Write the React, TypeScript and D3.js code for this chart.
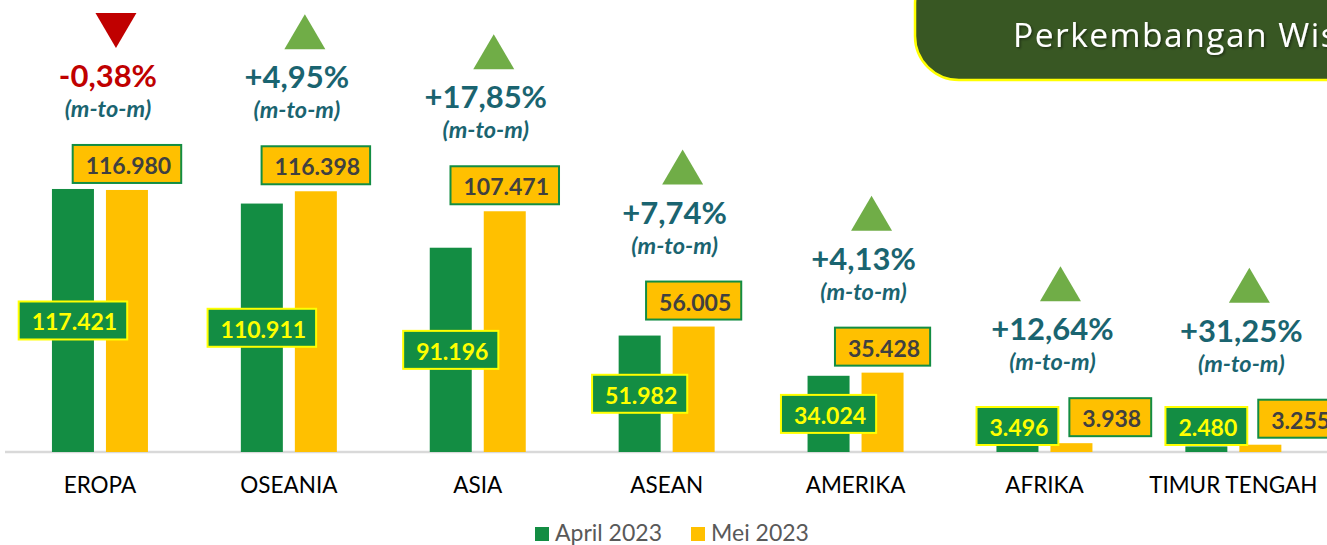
import React, { useEffect, useRef } from 'react';
import * as d3 from 'd3';

const categories = ['EROPA', 'OSEANIA', 'ASIA', 'ASEAN', 'AMERIKA', 'AFRIKA', 'TIMUR TENGAH'];
const april2023 = [117421, 110911, 91196, 51982, 34024, 3496, 2480];
const mei2023 = [116980, 116398, 107471, 56005, 35428, 3938, 3255];
const seriesNames = ['April 2023', 'Mei 2023'];
const titleText = 'Perkembangan Wisman Menurut Kebangsaan';
const periodNote = '(m-to-m)';

const W = 1327;
const H = 545;
const GREEN = '#138D43';
const YELLOW = '#FFC000';
const TEAL = '#1A6470';
const RED = '#C00000';
const TRI_GREEN = '#70AD47';

const locale = d3.formatLocale({ decimal: ',', thousands: '.', grouping: [3], currency: ['', ''], minus: '-' });
const fmtInt = locale.format(',d');
const fmtPct = locale.format('+.2f');

export default function App() {
  const ref = useRef<SVGSVGElement | null>(null);

  useEffect(() => {
    const svg = d3.select(ref.current);
    svg.selectAll('*').remove();

    const baseY = 452;
    const x = d3.scaleBand<string>().domain(categories).range([5.5, 5.5 + 7 * 188.9]).paddingInner(0).paddingOuter(0);
    const y = d3.scaleLinear().domain([0, 120000]).range([baseY, baseY - 268.8]);

    const defs = svg.append('defs');
    const f = defs.append('filter').attr('id', 'tshadow').attr('x', '-10%').attr('y', '-30%').attr('width', '120%').attr('height', '160%');
    f.append('feDropShadow').attr('dx', 1.5).attr('dy', 1.5).attr('stdDeviation', 1).attr('flood-color', '#000').attr('flood-opacity', 0.45);

    // Title box
    svg.append('rect')
      .attr('x', 915).attr('y', -40).attr('width', 520).attr('height', 120)
      .attr('rx', 44).attr('ry', 44)
      .attr('fill', '#385723').attr('stroke', '#FFFF00').attr('stroke-width', 2.5);
    svg.append('text')
      .attr('x', 1013).attr('y', 47)
      .attr('font-family', '"Open Sans", sans-serif').attr('font-size', 33.5)
      .attr('letter-spacing', 1.5)
      .attr('fill', '#FFFFFF').attr('filter', 'url(#tshadow)')
      .text(titleText);

    // baseline
    svg.append('line')
      .attr('x1', 5).attr('x2', W).attr('y1', baseY).attr('y2', baseY)
      .attr('stroke', '#D9D9D9').attr('stroke-width', 2.5);

    const step = x.step();
    categories.forEach((cat, i) => {
      const cx = (x(cat) as number) + step / 2;
      const sub = d3.scaleBand<string>().domain(seriesNames).range([cx - 48, cx + 48]).paddingInner(12 / 54).paddingOuter(0);
      const vals = [april2023[i], mei2023[i]];
      const g = svg.append('g');

      // bars
      vals.forEach((v, j) => {
        g.append('rect')
          .attr('x', sub(seriesNames[j]) as number)
          .attr('y', y(v))
          .attr('width', sub.bandwidth())
          .attr('height', baseY - y(v))
          .attr('fill', j === 0 ? GREEN : YELLOW);
      });

      const labelFont = 23;
      const boxH = 38;
      const pad = 11.5;

      // Green (April) label, inside center
      const gCx = (sub(seriesNames[0]) as number) + sub.bandwidth() / 2;
      const gCy = Math.min((y(april2023[i]) + baseY) / 2, baseY - 26);
      const gText = g.append('text')
        .attr('font-family', 'Lato, sans-serif').attr('font-weight', 700).attr('font-size', labelFont)
        .attr('fill', '#FFFF00').attr('text-anchor', 'middle').attr('dominant-baseline', 'central')
        .attr('x', gCx + 1.5).attr('y', gCy + 1)
        .text(fmtInt(april2023[i]));
      const gW = (gText.node() as SVGTextElement).getComputedTextLength() + 2 * pad;
      g.insert('rect', 'text')
        .attr('x', gCx - gW / 2).attr('y', gCy - boxH / 2).attr('width', gW).attr('height', boxH)
        .attr('fill', GREEN).attr('stroke', '#FFFF00').attr('stroke-width', 2);
      const gBox = { left: gCx - gW / 2, right: gCx + gW / 2, top: gCy - boxH / 2, bottom: gCy + boxH / 2 };

      // Yellow (Mei) label, outside end
      let yCx = (sub(seriesNames[1]) as number) + sub.bandwidth() / 2;
      const yBottom = y(mei2023[i]) - 7;
      const yTop = yBottom - boxH;
      const yText = g.append('text')
        .attr('font-family', 'Lato, sans-serif').attr('font-weight', 700).attr('font-size', labelFont)
        .attr('fill', '#404040').attr('text-anchor', 'middle').attr('dominant-baseline', 'central')
        .attr('y', yTop + boxH / 2 + 1)
        .text(fmtInt(mei2023[i]));
      const yW = (yText.node() as SVGTextElement).getComputedTextLength() + 2 * pad;
      const overlapV = yBottom > gBox.top && yTop < gBox.bottom;
      if (overlapV && yCx - yW / 2 < gBox.right + 11) {
        yCx = gBox.right + 11 + yW / 2;
      }
      yText.attr('x', yCx + 1.5);
      g.append('rect')
        .attr('x', yCx - yW / 2).attr('y', yTop).attr('width', yW).attr('height', boxH)
        .attr('fill', YELLOW).attr('stroke', GREEN).attr('stroke-width', 2)
        .lower();
      yText.raise();

      // change annotation
      const pct = (mei2023[i] - april2023[i]) / april2023[i] * 100;
      const neg = pct < 0;
      const mtmBase = yTop - 28;
      const pctBase = mtmBase - 30;
      const triBottom = pctBase - 39;
      const triH = 35;
      const triW = 41;
      const tx = cx + 8;
      const trx = cx + 16;
      const triPts = neg
        ? [[trx - triW / 2, triBottom - triH], [trx + triW / 2, triBottom - triH], [trx, triBottom]]
        : [[trx - triW / 2, triBottom], [trx + triW / 2, triBottom], [trx, triBottom - triH]];
      g.append('path')
        .attr('d', d3.line()(triPts as [number, number][]) + 'Z')
        .attr('fill', neg ? RED : TRI_GREEN);
      g.append('text')
        .attr('x', tx).attr('y', pctBase)
        .attr('text-anchor', 'middle')
        .attr('font-family', 'Lato, sans-serif').attr('font-weight', 700).attr('font-size', 31)
        .attr('fill', neg ? RED : TEAL)
        .text((neg ? locale.format('.2f')(pct) : fmtPct(pct)) + '%');
      g.append('text')
        .attr('x', tx).attr('y', mtmBase)
        .attr('text-anchor', 'middle')
        .attr('font-family', 'Lato, sans-serif').attr('font-weight', 700).attr('font-style', 'italic').attr('font-size', 23.5)
        .attr('fill', TEAL)
        .text(periodNote);

      // category label
      svg.append('text')
        .attr('x', cx).attr('y', 493)
        .attr('text-anchor', 'middle')
        .attr('font-family', 'Lato, sans-serif').attr('font-size', 22.5)
        .attr('fill', '#000000')
        .text(cat);
    });

    // legend
    const lg = svg.append('g');
    const items = [
      { name: seriesNames[0], color: GREEN, x: 535 },
      { name: seriesNames[1], color: YELLOW, x: 691 },
    ];
    items.forEach((it) => {
      lg.append('rect').attr('x', it.x).attr('y', 527).attr('width', 14).attr('height', 14).attr('fill', it.color);
      lg.append('text')
        .attr('x', it.x + 20).attr('y', 541)
        .attr('font-family', 'Lato, sans-serif').attr('font-size', 23)
        .attr('fill', '#595959')
        .text(it.name);
    });
  }, []);

  return (
    <svg
      ref={ref}
      width={W}
      height={H}
      viewBox={`0 0 ${W} ${H}`}
      style={{ position: 'absolute', left: 0, top: 0, background: '#FFFFFF', display: 'block' }}
    />
  );
}
